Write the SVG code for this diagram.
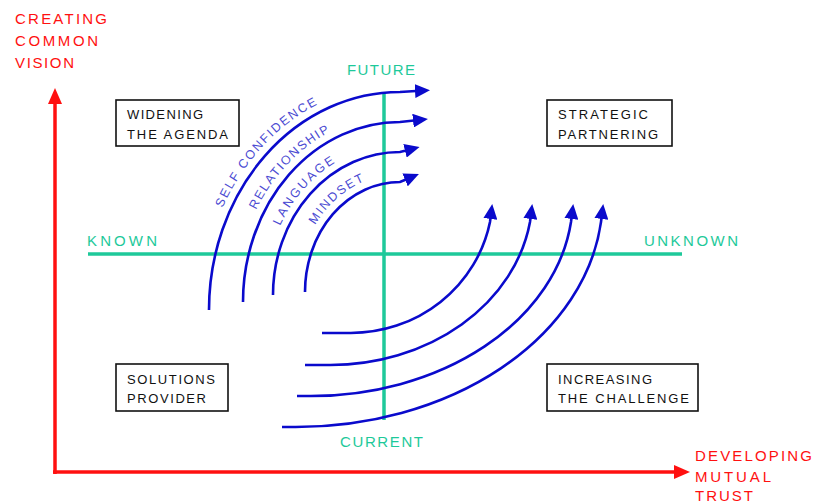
<svg xmlns="http://www.w3.org/2000/svg" width="813" height="504" viewBox="0 0 813 504">
<style>
.red{fill:#ff1010;font-family:"Liberation Sans",Arial,sans-serif;font-size:15px}
.grn{fill:#1ec99a;font-family:"Liberation Sans",Arial,sans-serif;font-size:15px}
.box rect{fill:#fff;stroke:#111;stroke-width:1.6}
.box text{fill:#111;font-family:"Liberation Sans",Arial,sans-serif;font-size:13px}
.arc{fill:none;stroke:#0a0acc;stroke-width:2.6;marker-end:url(#ah)}
.lbl{fill:#4a4ad2;font-family:"Liberation Sans",Arial,sans-serif;font-size:12.5px}
.gline{stroke:#1ec99a;stroke-width:3.5}
.rline{stroke:#ff1010;stroke-width:3.5}
</style>
<defs>
<marker id="ah" markerUnits="userSpaceOnUse" markerWidth="16" markerHeight="14" refX="1" refY="7" orient="auto" viewBox="0 0 16 14">
<path d="M0,0 L15,7 L0,14 z" fill="#0a0acc"/>
</marker>
<path id="t1" d="M222.5,208 A199,226 0 0 1 400,84"/>
<path id="t2" d="M256,210 A165,188 0 0 1 400,114"/>
<path id="t3" d="M280,226 A135,151 0 0 1 400,144"/>
<path id="t4" d="M315,225 A103,118 0 0 1 400,174"/>
</defs>
<rect width="813" height="504" fill="#fff"/>

<g id="axes">
<line class="rline" x1="55" y1="474" x2="55" y2="100"/>
<path d="M55,88 L62,104 L48,104 z" fill="#ff1010"/>
<line class="rline" x1="53" y1="472" x2="678" y2="472"/>
<path d="M690,472 L674,465 L674,479 z" fill="#ff1010"/>
<line class="gline" x1="88" y1="254" x2="682" y2="254"/>
<line class="gline" x1="384" y1="92" x2="384" y2="420"/>
</g>

<g id="axis-labels">
<text class="red" x="15" y="24" textLength="92">CREATING</text>
<text class="red" x="15" y="46" textLength="83">COMMON</text>
<text class="red" x="15" y="68" textLength="59">VISION</text>
<text class="red" x="695" y="461" textLength="117">DEVELOPING</text>
<text class="red" x="695" y="482" textLength="76">MUTUAL</text>
<text class="red" x="695" y="501" textLength="58">TRUST</text>
<text class="grn" x="347" y="75" textLength="68">FUTURE</text>
<text class="grn" x="340" y="447" textLength="83">CURRENT</text>
<text class="grn" x="87" y="246" textLength="70">KNOWN</text>
<text class="grn" x="644" y="246" textLength="94">UNKNOWN</text>
</g>

<g id="connectors">
<path class="arc" d="M209,310 A191,218 0 0 1 400,92 L416,91"/>
<path class="arc" d="M243,302 A157,180 0 0 1 400,122 L414,120.5"/>
<path class="arc" d="M273,295 A127,143 0 0 1 400,152 L406,150.5"/>
<path class="arc" d="M305,292 A95,110 0 0 1 400,182 L406,179.5"/>
<path class="arc" d="M322,333 L350,333 A142,138 0 0 0 490,222 L490.5,218"/>
<path class="arc" d="M305,365 L330,365 A202,169 0 0 0 530,222 L530.5,218"/>
<path class="arc" d="M297,396 L310,396 A262,197 0 0 0 571,222 L571.5,218"/>
<path class="arc" d="M282,427 L295,427 A307,229 0 0 0 601,222 L601.5,218"/>
</g>

<g id="arc-labels">
<text class="lbl"><textPath href="#t1" textLength="143">SELF CONFIDENCE</textPath></text>
<text class="lbl"><textPath href="#t2" textLength="109">RELATIONSHIP</textPath></text>
<text class="lbl"><textPath href="#t3" textLength="85">LANGUAGE</textPath></text>
<text class="lbl"><textPath href="#t4" textLength="67">MINDSET</textPath></text>
</g>

<g id="widening" class="box">
<rect x="116" y="100" width="123" height="46"/>
<text x="127" y="119" textLength="76">WIDENING</text>
<text x="127" y="139" textLength="101">THE AGENDA</text>
</g>
<g id="strategic" class="box">
<rect x="547" y="100" width="125" height="46"/>
<text x="558" y="119" textLength="90">STRATEGIC</text>
<text x="558" y="139" textLength="100">PARTNERING</text>
</g>
<g id="solutions" class="box">
<rect x="116" y="364" width="112" height="47"/>
<text x="127" y="384" textLength="88">SOLUTIONS</text>
<text x="127" y="403" textLength="79">PROVIDER</text>
</g>
<g id="increasing" class="box">
<rect x="547" y="364" width="151" height="47"/>
<text x="558" y="384" textLength="94">INCREASING</text>
<text x="558" y="403" textLength="131">THE CHALLENGE</text>
</g>
</svg>
